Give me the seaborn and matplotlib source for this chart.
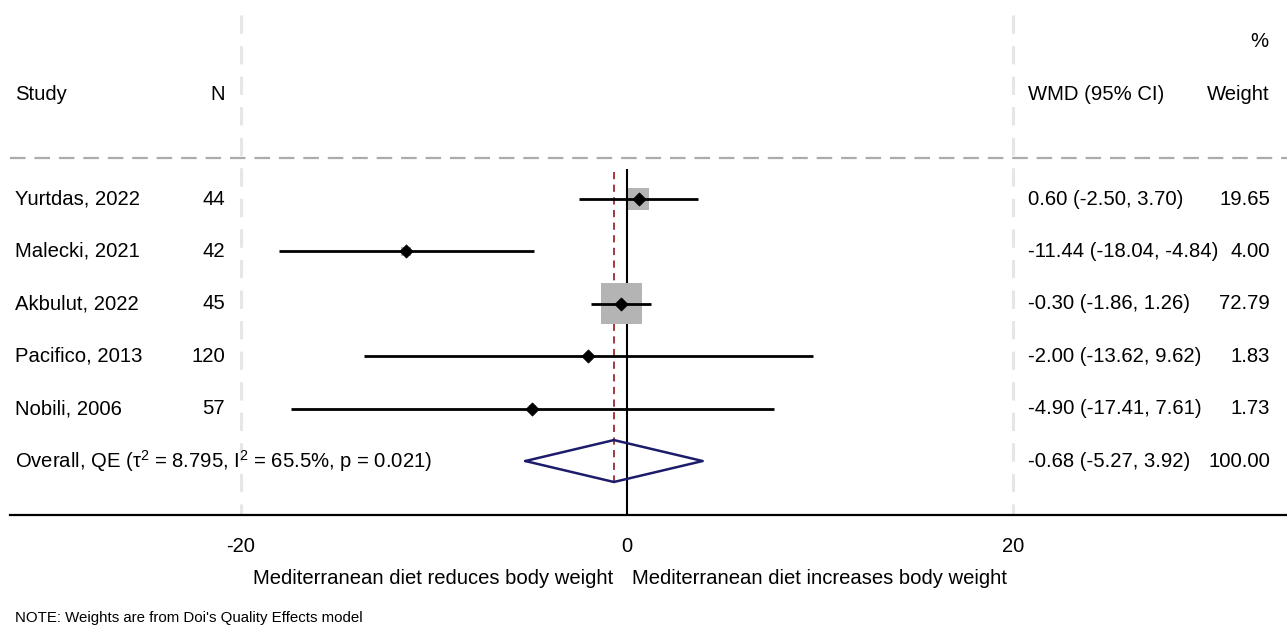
import numpy as np
import pandas as pd
import seaborn as sns
import matplotlib.pyplot as plt

studies = ["Yurtdas, 2022", "Malecki, 2021", "Akbulut, 2022", "Pacifico, 2013", "Nobili, 2006"]
n_sizes = [44, 42, 45, 120, 57]
wmd = [0.60, -11.44, -0.30, -2.00, -4.90]
ci_low = [-2.50, -18.04, -1.86, -13.62, -17.41]
ci_high = [3.70, -4.84, 1.26, 9.62, 7.61]
weights = [19.65, 4.00, 72.79, 1.83, 1.73]
overall = [-0.68, -5.27, 3.92]
overall_label = r"Overall, QE (τ$^{2}$ = 8.795, I$^{2}$ = 65.5%, p = 0.021)"
xticks = [-20, 0, 20]

sns.set_style("white")
plt.rcParams['font.family'] = ['Liberation Sans', 'DejaVu Sans']
plt.rcParams['mathtext.fontset'] = 'custom'
plt.rcParams['mathtext.rm'] = 'Liberation Sans'
plt.rcParams['mathtext.it'] = 'Liberation Sans'
plt.rcParams['mathtext.default'] = 'regular'
plt.rcParams['axes.unicode_minus'] = False
plt.rcParams['text.color'] = 'black'
plt.rcParams['xtick.color'] = 'black'

df = pd.DataFrame({"study": studies, "n": n_sizes, "wmd": wmd,
                   "lo": ci_low, "hi": ci_high, "w": weights})
df["row"] = np.arange(1, len(df) + 1)
ov_row = len(df) + 1

fig = plt.figure(figsize=(12.87, 6.28), dpi=100)
# axes bottom is the x axis line; px scale 19.3 px per unit, 0 at px 627
ax = fig.add_axes([10 / 1287, 113 / 628, 1 - 10 / 1287, 515 / 628])
ax.set_xlim((10 - 627) / 19.3, (1287 - 627) / 19.3)
ax.set_ylim(7.03, -2.798)

for s in ["top", "right", "left"]:
    ax.spines[s].set_visible(False)
ax.spines["bottom"].set_linewidth(1.6)
ax.spines["bottom"].set_color("black")
ax.set_yticks([])
ax.set_xticks(xticks)
ax.tick_params(axis="x", length=11, width=1.4, labelsize=14.5, pad=5, color="black",
               labelcolor="black")

# light grid lines at ticks +-20
for xv in [-20, 20]:
    ax.vlines(xv, -2.51, 7.03, color="#e6e6e6", lw=2.2, ls=(0, (6, 4)), zorder=0)
# header separator
ax.axhline(0.218, color="#ababab", lw=1.6, ls=(0, (7, 4)), zorder=1)
# no effect line
ax.vlines(0, 0.43, 7.03, color="black", lw=1.5, zorder=2)
# overall effect line
ax.vlines(overall[0], 0.48, 6.5, color="#9b2a2f", lw=1.3, ls=(0, (4, 3)), zorder=2)

# weight squares
ax.scatter(df["wmd"], df["row"], s=df["w"] * 12, marker="s", color="#b4b4b4",
           edgecolor="none", zorder=3)
# confidence intervals
ax.hlines(df["row"], df["lo"], df["hi"], color="black", lw=2.0, zorder=4)
sns.scatterplot(data=df, x="wmd", y="row", marker="D", s=45, color="black",
                edgecolor="black", ax=ax, zorder=5, legend=False)

# overall diamond
m, lo, hi = overall
ax.plot([lo, m, hi, m, lo], [ov_row, ov_row - 0.4, ov_row, ov_row + 0.4, ov_row],
        color="#1c1c6b", lw=1.8, zorder=6)
ax.set_xlabel("")
ax.set_ylabel("")

fs = 14.6
x_study = (15 - 627) / 19.3
x_n = (225 - 627) / 19.3
x_wmd = (1028 - 627) / 19.3
x_w = (1270 - 627) / 19.3

ax.text(x_study, -1, "Study", fontsize=fs, va="center", ha="left")
ax.text(x_n, -1, "N", fontsize=fs, va="center", ha="right")
ax.text(x_wmd, -1, "WMD (95% CI)", fontsize=fs, va="center", ha="left")
ax.text(x_w, -1, "Weight", fontsize=fs, va="center", ha="right")
ax.text(x_w - 0.1, -2, "%", fontsize=fs, va="center", ha="right")

for _, r in df.iterrows():
    ax.text(x_study, r["row"], r["study"], fontsize=fs, va="center", ha="left")
    ax.text(x_n, r["row"], f"{int(r['n'])}", fontsize=fs, va="center", ha="right")
    ax.text(x_wmd, r["row"], f"{r['wmd']:.2f} ({r['lo']:.2f}, {r['hi']:.2f})",
            fontsize=fs, va="center", ha="left")
    ax.text(x_w, r["row"], f"{r['w']:.2f}", fontsize=fs, va="center", ha="right")

ax.text(x_study, ov_row, overall_label, fontsize=fs, va="center", ha="left")
ax.text(x_wmd, ov_row, f"{m:.2f} ({lo:.2f}, {hi:.2f})", fontsize=fs, va="center", ha="left")
ax.text(x_w, ov_row, "100.00", fontsize=fs, va="center", ha="right")

fig.text(613 / 1287, 1 - 578 / 628, "Mediterranean diet reduces body weight",
         fontsize=fs, ha="right", va="center")
fig.text(632 / 1287, 1 - 578 / 628, "Mediterranean diet increases body weight",
         fontsize=fs, ha="left", va="center")
fig.text(15 / 1287, 1 - 618 / 628, "NOTE: Weights are from Doi's Quality Effects model",
         fontsize=10.8, ha="left", va="center")

fig.savefig("out.png", dpi=100, facecolor="white")
